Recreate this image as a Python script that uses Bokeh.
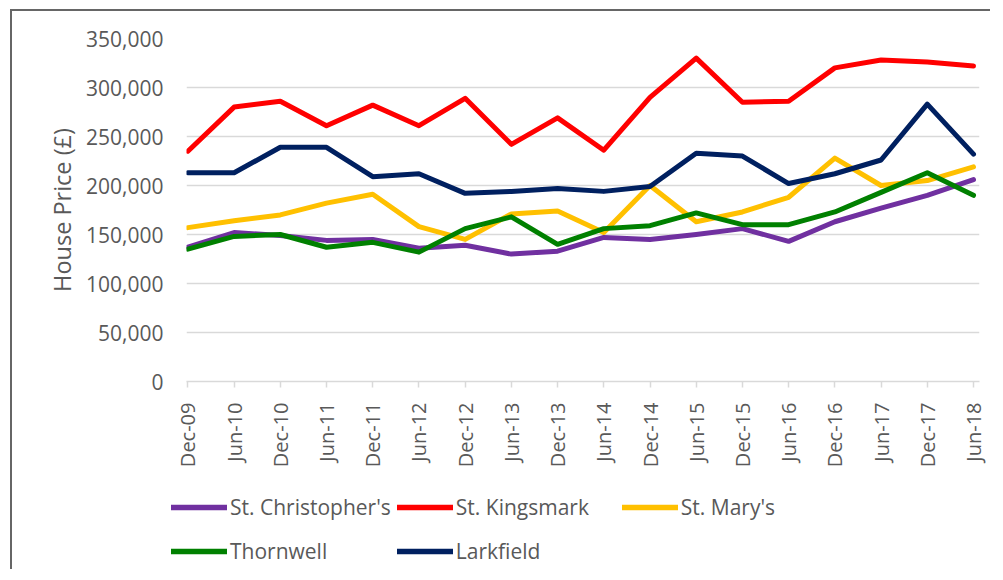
from bokeh.plotting import figure
from bokeh.models import Range1d, FixedTicker, NumeralTickFormatter, Legend, LegendItem
from bokeh.embed import file_html
from bokeh.resources import INLINE
import math

periods = ["Dec-09", "Jun-10", "Dec-10", "Jun-11", "Dec-11", "Jun-12", "Dec-12", "Jun-13", "Dec-13",
           "Jun-14", "Dec-14", "Jun-15", "Dec-15", "Jun-16", "Dec-16", "Jun-17", "Dec-17", "Jun-18"]

st_christophers = [137000, 152000, 149000, 144000, 145000, 136000, 139000, 130000, 133000,
                   147000, 145000, 150000, 156000, 143000, 163000, 177000, 190000, 206000]
st_kingsmark = [235000, 280000, 286000, 261000, 282000, 261000, 289000, 242000, 269000,
                236000, 290000, 330000, 285000, 286000, 320000, 328000, 326000, 322000]
st_marys = [157000, 164000, 170000, 182000, 191000, 158000, 145000, 171000, 174000,
            152000, 200000, 163000, 173000, 188000, 228000, 200000, 205000, 219000]
thornwell = [135000, 148000, 150000, 137000, 142000, 132000, 156000, 168000, 140000,
             156000, 159000, 172000, 160000, 160000, 173000, 193000, 213000, 190000]
larkfield = [213000, 213000, 239000, 239000, 209000, 212000, 192000, 194000, 197000,
             194000, 199000, 233000, 230000, 202000, 212000, 226000, 283000, 232000]

series_names = ["St. Christopher's", "St. Kingsmark", "St. Mary's", "Thornwell", "Larkfield"]
series_values = [st_christophers, st_kingsmark, st_marys, thornwell, larkfield]
series_colors = ["#7030A0", "#FF0000", "#FFC000", "#008000", "#002060"]

y_ticks = [0, 50000, 100000, 150000, 200000, 250000, 300000, 350000]

FONT = "Open Sans"
TEXT = "#595959"
GRID = "#d9d9d9"
BORDER = "2px solid #666666"
LW = 5

xs = list(range(len(periods)))

# ---- main chart ----
p = figure(width=980, height=460, output_backend="svg", toolbar_location=None,
           x_range=Range1d(-0.03, 17.13), y_range=Range1d(0, 350000),
           min_border_left=174, min_border_right=13, min_border_top=27, min_border_bottom=90,
           background_fill_color="white", border_fill_color="white")
p.outline_line_color = None
p.styles = {"border-left": BORDER, "border-top": BORDER,
            "margin-left": "10px", "margin-top": "9px"}

for name, vals, col in zip(series_names, series_values, series_colors):
    p.line(xs, vals, line_color=col, line_width=LW, line_join="round", line_cap="round")

xa = p.xaxis[0]
xa.ticker = FixedTicker(ticks=xs)
xa.major_label_overrides = {i: lab for i, lab in zip(xs, periods)}
xa.major_label_orientation = math.pi / 2
xa.axis_line_color = GRID
xa.axis_line_width = 1.5
xa.major_tick_line_color = GRID
xa.major_tick_line_width = 1.5
xa.major_tick_out = 6
xa.major_tick_in = 0
xa.minor_tick_line_color = None
xa.major_label_standoff = 15
xa.major_label_text_font = FONT
xa.major_label_text_font_size = "20px"
xa.major_label_text_color = TEXT

ya = p.yaxis[0]
ya.ticker = FixedTicker(ticks=y_ticks)
ya.formatter = NumeralTickFormatter(format="0,0")
ya.axis_line_color = None
ya.major_tick_line_color = None
ya.minor_tick_line_color = None
ya.major_label_standoff = 17
ya.major_label_text_font = FONT
ya.major_label_text_font_size = "21px"
ya.major_label_text_color = TEXT
ya.axis_label = "House Price (£)"
ya.axis_label_text_font = FONT
ya.axis_label_text_font_size = "23.5px"
ya.axis_label_text_font_style = "normal"
ya.axis_label_text_color = TEXT
ya.axis_label_standoff = 5

p.xgrid.grid_line_color = None
p.ygrid.ticker = FixedTicker(ticks=y_ticks)
p.ygrid.grid_line_color = GRID
p.ygrid.grid_line_width = 1.5

# ---- legend strip (series drawn out of view; only the legend shows) ----
lg = figure(width=980, height=100, output_backend="svg", toolbar_location=None,
            x_range=Range1d(100, 101), y_range=Range1d(0, 1),
            x_axis_location=None, y_axis_location=None, min_border=0,
            background_fill_color="white", border_fill_color="white")
lg.outline_line_color = None
lg.grid.grid_line_color = None
lg.styles = {"border-left": BORDER, "margin-left": "10px"}

items = []
for name, vals, col in zip(series_names, series_values, series_colors):
    r = lg.line(xs, vals, line_color=col, line_width=5.5, line_cap="round")
    items.append(LegendItem(label=name, renderers=[r]))

legend = Legend(items=items, location=(159, -1), orientation="horizontal", ncols=3,
                padding=0, margin=0, spacing=6,
                glyph_width=56, glyph_height=38, label_height=38, label_width=160,
                label_standoff=3,
                label_text_font=FONT, label_text_font_size="21px", label_text_color=TEXT,
                border_line_color=None, background_fill_alpha=0)
lg.add_layout(legend)

open("out.html", "w").write(file_html([p, lg], INLINE))
